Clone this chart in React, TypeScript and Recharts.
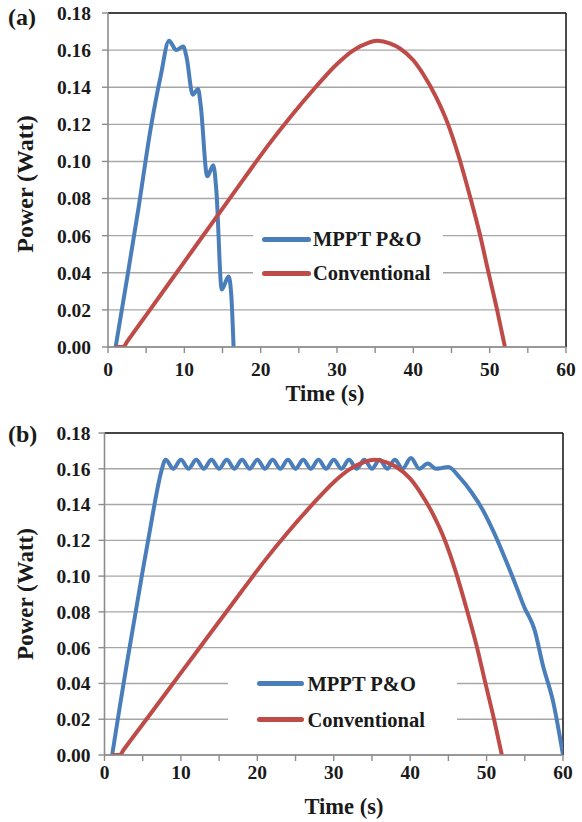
import React from 'react';
import { LineChart, Line, XAxis, YAxis, CartesianGrid, ReferenceLine, Legend } from 'recharts';

// ---------- data ----------
const SERIES_NAMES = ['MPPT P&O', 'Conventional'];
const SERIES_COLORS = ['#4a7ebb', '#be4b48'];
const PANEL_LABELS = ['(a)', '(b)'];
const X_TITLE = 'Time (s)';
const Y_TITLE = 'Power (Watt)';

const X_TICKS = [0, 5, 10, 15, 20, 25, 30, 35, 40, 45, 50, 55, 60];
const Y_TICKS = [0, 0.02, 0.04, 0.06, 0.08, 0.1, 0.12, 0.14, 0.16, 0.18];

// (a) MPPT P&O
const mpptATime = [1, 2.5, 4, 5.6, 6.9, 8.0, 8.95, 9.85, 10.3, 11.1, 11.8, 12.15, 13.0, 13.8, 14.2, 14.9, 15.8, 16.15, 16.45];
const mpptAPower = [0, 0.037, 0.075, 0.118, 0.146, 0.165, 0.160, 0.162, 0.156, 0.136, 0.139, 0.130, 0.092, 0.098, 0.084, 0.031, 0.038, 0.028, 0];

// Conventional (same in both panels)
const convTime = [1, 2, 2.5, 5, 10, 15, 18, 21, 24, 27.3, 30, 32, 34, 35.3, 37, 38.2, 40, 41.3, 43, 44.5, 46, 47.4, 48.7, 49.8, 51, 52];
const convPower = [0, 0, 0.0029, 0.0172, 0.0459, 0.0746, 0.0918, 0.1088, 0.1245, 0.1405, 0.1525, 0.1595, 0.1638, 0.165, 0.1635, 0.161, 0.1545, 0.147, 0.1345, 0.1205, 0.102, 0.0815, 0.061, 0.041, 0.0195, 0];

// (b) MPPT P&O
const mpptBTime = [1, 2, 3, 4, 5, 6, 6.8, 7.4, 8, 9, 10, 11, 12, 13, 14, 15, 16, 17, 18, 19, 20, 21, 22, 23, 24, 25, 26, 27, 28, 29, 30, 31, 32, 33, 34, 35, 36, 37, 38, 39, 40.1, 41.2, 42.3, 43.4, 44.2, 45, 46.5, 48, 49.5, 51, 52.5, 54, 55, 55.6, 56.2, 57.4, 58.7, 60];
const mpptBPower = [0, 0.027, 0.053, 0.078, 0.103, 0.127, 0.146, 0.158, 0.165, 0.160, 0.165, 0.160, 0.165, 0.160, 0.165, 0.160, 0.165, 0.160, 0.165, 0.160, 0.165, 0.160, 0.165, 0.160, 0.165, 0.160, 0.165, 0.160, 0.165, 0.160, 0.165, 0.160, 0.165, 0.160, 0.165, 0.160, 0.165, 0.160, 0.165, 0.160, 0.166, 0.160, 0.163, 0.160, 0.1605, 0.161, 0.155, 0.147, 0.137, 0.124, 0.109, 0.093, 0.082, 0.077, 0.071, 0.0496, 0.030, 0];

const zip = (t: number[], p: number[]) => t.map((v, i) => ({ t: v, p: p[i] }));

const FONT = '"Liberation Serif", "Times New Roman", serif';
const GRID = '#a6a6a6';
const AXIS = '#8c8c8c';
const TEXT = '#1a1a1a';

const tickStyle = { fontFamily: FONT, fontWeight: 700, fontSize: 19.5, fill: TEXT };

type PanelCfg = {
  top: number;
  height: number;
  margin: { top: number; right: number; left: number; bottom: number };
  yAxisWidth: number;
  xAxisHeight: number;
  xTickMargin: number;
  yTickMargin: number;
  panelLabel: string;
  panelLabelY: number;
  yTitleX: number;
  yTitleY: number;
  yTitleSize: number;
  xTitleX: number;
  xTitleY: number;
  legend: { left: number; top: number; width: number; height: number; row1: number; row2: number; lineLeft: number; lineWidth: number; textLeft: number };
  mppt: { t: number; p: number }[];
};

const LegendBox = ({ cfg }: { cfg: PanelCfg['legend'] }) => {
  const rows = [cfg.row1, cfg.row2];
  return (
    <div
      style={{
        position: 'absolute',
        left: cfg.left,
        top: cfg.top,
        width: cfg.width,
        height: cfg.height,
        background: '#ffffff',
      }}
    >
      {SERIES_NAMES.map((name, i) => (
        <div key={name} style={{ position: 'absolute', left: 0, top: rows[i] - 10, height: 20, width: cfg.width }}>
          <div
            style={{
              position: 'absolute',
              left: cfg.lineLeft,
              top: 7.5,
              width: cfg.lineWidth,
              height: 5,
              borderRadius: 3,
              background: SERIES_COLORS[i],
            }}
          />
          <div
            style={{
              position: 'absolute',
              left: cfg.textLeft,
              top: 0,
              height: 20,
              lineHeight: '20px',
              fontFamily: FONT,
              fontWeight: 700,
              fontSize: 20.5,
              color: TEXT,
              whiteSpace: 'nowrap',
            }}
          >
            {name}
          </div>
        </div>
      ))}
    </div>
  );
};

const Panel = ({ cfg }: { cfg: PanelCfg }) => {
  const conv = zip(convTime, convPower);
  const xTitle = () => (
    <g>
      <text x={cfg.xTitleX} y={cfg.xTitleY} textAnchor="middle" fontFamily={FONT} fontWeight={700} fontSize={22.5} fill={TEXT}>
        {X_TITLE}
      </text>
      <text x={8} y={cfg.panelLabelY} textAnchor="start" fontFamily={FONT} fontWeight={700} fontSize={24} fill={TEXT}>
        {cfg.panelLabel}
      </text>
    </g>
  );
  const yTitle = () => (
    <text
      x={cfg.yTitleX}
      y={cfg.yTitleY}
      transform={`rotate(-90 ${cfg.yTitleX} ${cfg.yTitleY})`}
      textAnchor="middle"
      fontFamily={FONT}
      fontWeight={700}
      fontSize={cfg.yTitleSize}
      fill={TEXT}
    >
      {Y_TITLE}
    </text>
  );
  return (
    <div style={{ position: 'absolute', left: 0, top: cfg.top, width: 582, height: cfg.height }}>
      <LineChart width={582} height={cfg.height} margin={cfg.margin}>
        <CartesianGrid vertical={false} stroke={GRID} strokeWidth={1.4} />
        <XAxis
          type="number"
          dataKey="t"
          domain={[0, 60]}
          ticks={X_TICKS}
          interval={0}
          allowDataOverflow
          tickFormatter={(v: number) => (v % 10 === 0 ? String(v) : '')}
          tick={tickStyle}
          tickSize={6}
          tickMargin={cfg.xTickMargin}
          height={cfg.xAxisHeight}
          axisLine={{ stroke: AXIS, strokeWidth: 1.6 }}
          tickLine={{ stroke: AXIS, strokeWidth: 1.4 }}
          label={xTitle}
        />
        <YAxis
          type="number"
          domain={[0, 0.18]}
          ticks={Y_TICKS}
          interval={0}
          allowDataOverflow
          tickFormatter={(v: number) => v.toFixed(2)}
          tick={tickStyle}
          tickSize={6}
          tickMargin={cfg.yTickMargin}
          width={cfg.yAxisWidth}
          axisLine={{ stroke: AXIS, strokeWidth: 1.6 }}
          tickLine={{ stroke: AXIS, strokeWidth: 1.4 }}
          label={yTitle}
        />
        <ReferenceLine y={0.18} stroke="#1e1e1e" strokeWidth={1.6} />
        <ReferenceLine x={60} stroke="#1e1e1e" strokeWidth={1.6} />
        <Legend
          verticalAlign="middle"
          align="center"
          layout="horizontal"
          wrapperStyle={{ position: 'absolute', left: 0, top: 0, width: 0, height: 0 }}
          content={() => <LegendBox cfg={cfg.legend} />}
        />
        <Line
          name={SERIES_NAMES[0]}
          data={cfg.mppt}
          dataKey="p"
          type="monotone"
          stroke={SERIES_COLORS[0]}
          strokeWidth={4}
          dot={false}
          activeDot={false}
          isAnimationActive={false}
          strokeLinejoin="round"
        />
        <Line
          name={SERIES_NAMES[1]}
          data={conv}
          dataKey="p"
          type="monotone"
          stroke={SERIES_COLORS[1]}
          strokeWidth={4}
          dot={false}
          activeDot={false}
          isAnimationActive={false}
          strokeLinejoin="round"
        />
      </LineChart>
    </div>
  );
};

const panelA: PanelCfg = {
  top: 0,
  height: 410,
  margin: { top: 13, right: 16, left: 0, bottom: 0 },
  yAxisWidth: 108,
  xAxisHeight: 63,
  xTickMargin: 9,
  yTickMargin: 11,
  panelLabel: PANEL_LABELS[0],
  panelLabelY: 25,
  yTitleX: 33,
  yTitleY: 184,
  yTitleSize: 24,
  xTitleX: 325,
  xTitleY: 401,
  legend: { left: 253, top: 222, width: 190, height: 68, row1: 17, row2: 51, lineLeft: 9, lineWidth: 49, textLeft: 60 },
  mppt: zip(mpptATime, mpptAPower),
};

const panelB: PanelCfg = {
  top: 410,
  height: 412,
  margin: { top: 23, right: 19, left: 0, bottom: 0 },
  yAxisWidth: 104.5,
  xAxisHeight: 67,
  xTickMargin: 4,
  yTickMargin: 8,
  panelLabel: PANEL_LABELS[1],
  panelLabelY: 32,
  yTitleX: 33,
  yTitleY: 184,
  yTitleSize: 23,
  xTitleX: 344,
  xTitleY: 404,
  legend: { left: 228, top: 257, width: 229, height: 70, row1: 16.5, row2: 52.5, lineLeft: 29, lineWidth: 47, textLeft: 79.5 },
  mppt: zip(mpptBTime, mpptBPower),
};

export default function App() {
  return (
    <div style={{ position: 'absolute', left: 0, top: 0, width: 582, height: 822, background: '#ffffff' }}>
      <Panel cfg={panelA} />
      <Panel cfg={panelB} />
    </div>
  );
}
